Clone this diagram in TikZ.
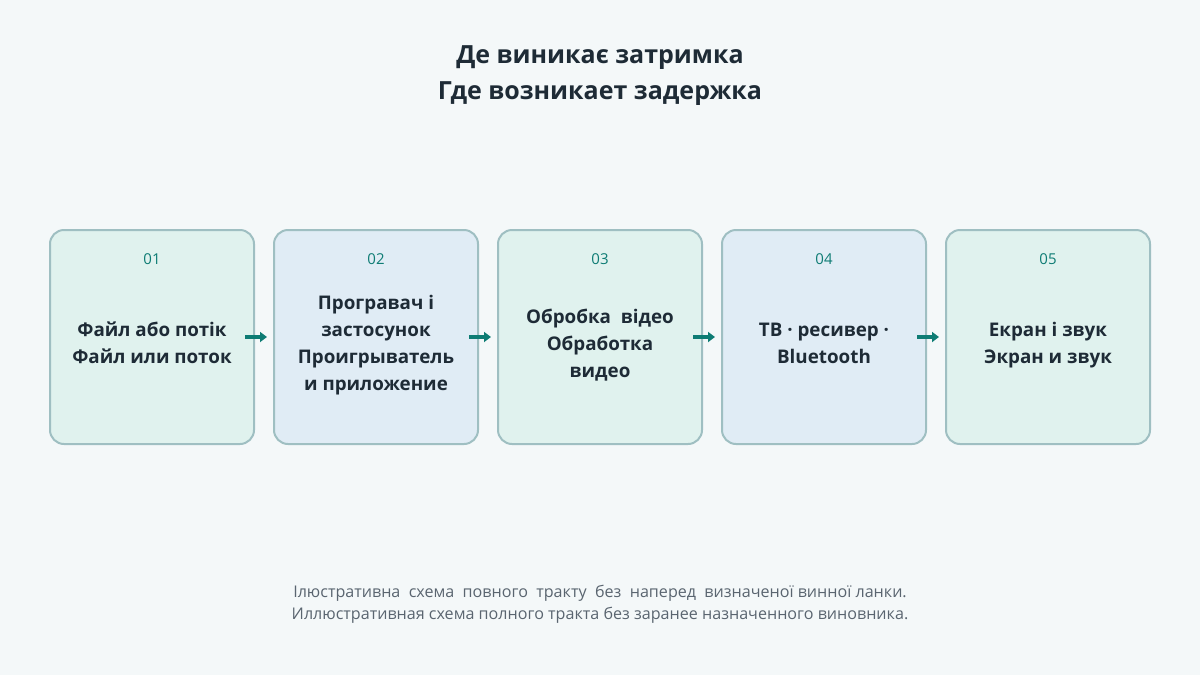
\documentclass[tikz,border=0pt]{standalone}
\usepackage{fontspec}
\setmainfont{Open Sans}
\usetikzlibrary{arrows.meta}
\definecolor{bg}{HTML}{F4F8F9}
\definecolor{fillg}{HTML}{E0F2EE}
\definecolor{fillb}{HTML}{E0ECF5}
\definecolor{edge}{HTML}{9FBFC2}
\definecolor{teal}{HTML}{0E7C74}
\definecolor{ink}{HTML}{1E2B36}
\definecolor{foot}{HTML}{5A6570}
\tikzset{
  stagebox/.style={draw=edge, line width=2pt, rounded corners=14pt, minimum width=204pt, minimum height=214pt, inner sep=0pt},
  numlabel/.style={text=teal, font=\fontsize{15}{18}\selectfont},
  mainlabel/.style={text=ink, font=\fontsize{18.8}{27}\selectfont\bfseries, align=center, inner sep=0pt},
  flow/.style={draw=teal, line width=3.5pt, -{Triangle[length=7pt,width=10pt]}},
}
\begin{document}
\begin{tikzpicture}[x=1pt,y=-1pt]
\fill[bg] (0,0) rectangle (1200,675);
\useasboundingbox (0,0) rectangle (1200,675);
\node[text=ink, font=\fontsize{25}{36}\selectfont\bfseries, align=center] (title) at (600,76) {Де виникає затримка\\Где возникает задержка};
\foreach \i/\x/\c in {1/152/fillg,2/376/fillb,3/600/fillg,4/824/fillb,5/1048/fillg}{
  \node[stagebox, fill=\c] (b\i) at (\x,337) {};
  \node[numlabel] (n\i) at (\x,259.5) {0\i};
}
\node[mainlabel] (t1) at (152,345) {\strut Файл або потік\\Файл или поток\strut};
\node[mainlabel] (t2) at (376,345) {\strut Програвач і\\застосунок\\Проигрыватель\\и приложение\strut};
\node[mainlabel] (t3) at (600,345) {\strut Обробка\ \ відео\\Обработка\\видео\strut};
\node[mainlabel] (t4) at (824,345) {\strut ТВ · ресивер ·\\Bluetooth\strut};
\node[mainlabel] (t5) at (1048,345) {\strut Екран і звук\\Экран и звук\strut};
\foreach \a/\b in {1/2,2/3,3/4,4/5}{
  \coordinate (s\a) at ([xshift=-10pt]b\a.east);
  \coordinate (e\a) at ([xshift=-6pt]b\b.west);
  \draw[flow] (s\a) -- (e\a);
}
\node[text=foot, font=\fontsize{16.1}{22}\selectfont, align=center] (footer) at (600,604) {Ілюстративна\ \ схема\ \ повного\ \ тракту\ \ без\ \ наперед\ \ визначеної винної ланки.\\Иллюстративная схема полного тракта без заранее назначенного виновника.};
\end{tikzpicture}
\end{document}
